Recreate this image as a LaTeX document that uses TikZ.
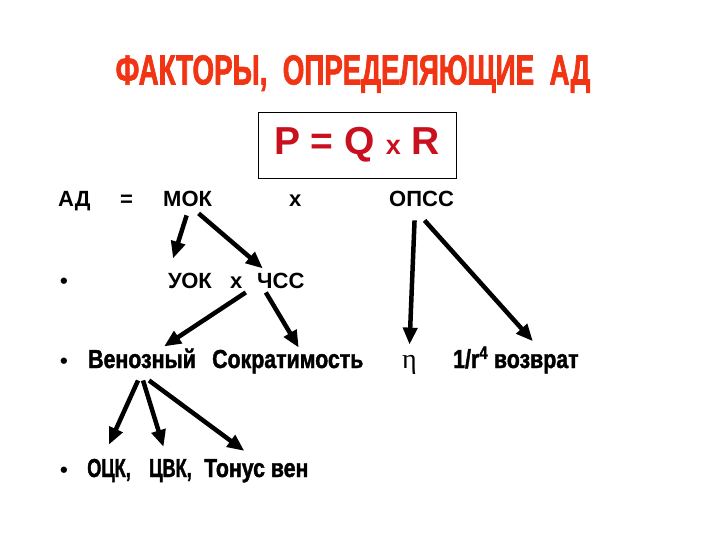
\documentclass[tikz,border=0pt]{standalone}
\usepackage{fontspec}
\setmainfont{Liberation Sans}
\newfontfamily\heavyfont[FakeStretch=0.82,FakeBold=1.5]{Liberation Sans}
\newfontfamily\narrowfont[FakeStretch=0.7,FakeBold=1.5]{Liberation Sans}
\newfontfamily\titlefont[FakeStretch=0.66,FakeBold=1.6]{Liberation Sans}
\newfontfamily\etafont{Liberation Serif}
\usepackage{tikz}
\usetikzlibrary{arrows.meta}
\usetikzlibrary{positioning}
\definecolor{titlered}{RGB}{240,52,20}
\definecolor{eqred}{RGB}{200,16,30}
\tikzstyle{every node}+=[inner sep=0pt]
\tikzstyle{term} = [anchor=base west, font=\fontsize{22}{24}\selectfont\bfseries]
\tikzstyle{heavy} = [anchor=base west, font=\fontsize{26}{28}\selectfont\heavyfont\bfseries]
\tikzstyle{narrow} = [heavy, font=\fontsize{26}{28}\selectfont\narrowfont\bfseries]
\tikzstyle{line} = [draw, line width=4.5pt, -{Triangle[length=17pt,width=14pt]}]

\begin{document}
\begin{tikzpicture}[x=1pt, y=-1pt]
            \useasboundingbox (0,0) rectangle (720,540);
            % Place nodes
            \node [font=\fontsize{42}{44}\selectfont\titlefont\bfseries, text=titlered] (title) at (353,74) {ФАКТОРЫ,\ \ ОПРЕДЕЛЯЮЩИЕ\ \ АД};
            \node [draw, thick, minimum width=198pt, minimum height=66pt, text=eqred, font=\fontsize{39}{41}\selectfont\bfseries] (formula) at (357,145) {P = Q {\fontsize{27}{29}\selectfont x} R};
            \node [term] (ad) at (58,207) {АД};
            \node [term] (eqsign) at (120,207) {=};
            \node [term] (mok) at (163,207) {МОК};
            \node [term] (times) at (289,207) {x};
            \node [term] (opss) at (389,207) {ОПСС};
            \node [term] (bul1) at (60,288) {•};
            \node [term] (uok) at (168,288) {УОК};
            \node [term] (times2) at (230,288) {x};
            \node [term] (chss) at (257,288) {ЧСС};
            \node [term] (bul2) at (60,368) {•};
            \node [heavy] (ven) at (88,368) {Венозный};
            \node [heavy] (sokr) at (212,368) {Сократимость};
            \node [term, font=\fontsize{28}{30}\selectfont\etafont] (eta) at (402,368) {η};
            \node [heavy] (vozvr) at (453,368) {1/r\textsuperscript{4} возврат};
            \node [term] (bul3) at (60,477) {•};
            \node [narrow] (ock) at (87,477) {ОЦК,};
            \node [narrow] (cvk) at (149,477) {ЦВК,};
            \node [heavy] (tonus) at (204,477) {Тонус вен};
            % Draw edges
            \path [line] ([xshift=-1pt,yshift=-8pt]mok.south) -- ([xshift=-17pt,yshift=14pt]uok.north);
            \path [line] ([xshift=11pt,yshift=-6pt]mok.south) -- ([xshift=-18pt,yshift=4pt]chss.north);
            \path [line] ([xshift=-35pt,yshift=-4pt]chss.south) -- ([xshift=22pt,yshift=2pt]ven.north);
            \path [line] ([xshift=-15pt,yshift=-4pt]chss.south) -- ([xshift=11pt,yshift=2pt]sokr.north);
            \path [line] ([xshift=-7pt,yshift=-13pt]opss.south) -- ([xshift=0pt,yshift=10pt]eta.north);
            \path [line] ([xshift=3pt,yshift=-13pt]opss.south) -- ([xshift=17pt,yshift=5pt]vozvr.north);
            \path [line] ([xshift=-4pt,yshift=-12pt]ven.south) -- ([xshift=0pt,yshift=14pt]ock.north);
            \path [line] ([xshift=1pt,yshift=-12pt]ven.south) -- ([xshift=-7pt,yshift=12pt]cvk.north);
            \path [line] ([xshift=7pt,yshift=-12pt]ven.south) -- ([xshift=-12pt,yshift=8pt]tonus.north);
          \end{tikzpicture}
\end{document}
